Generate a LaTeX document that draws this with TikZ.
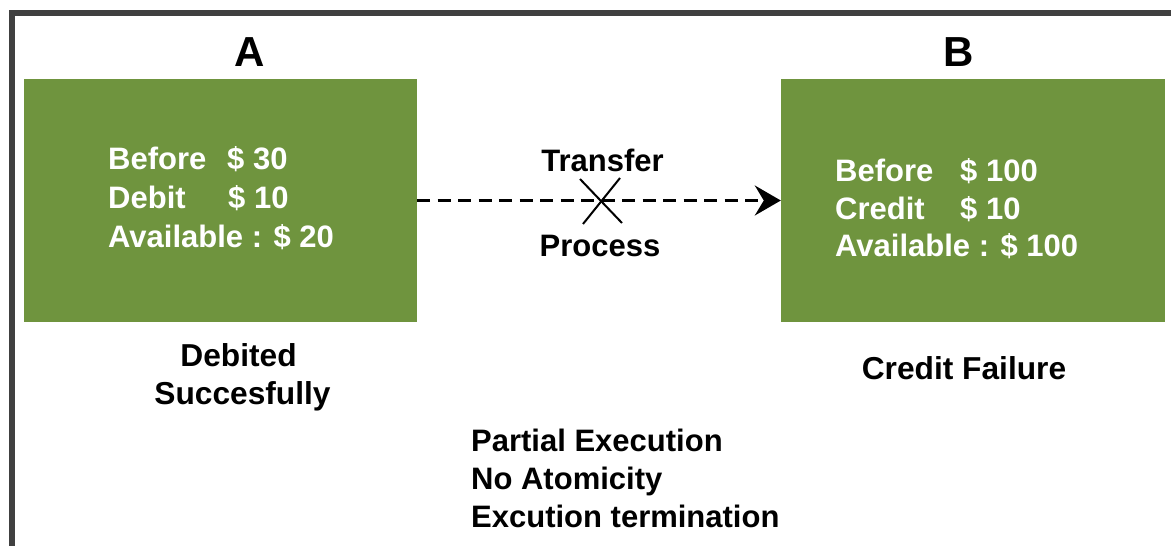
\documentclass[tikz,border=0pt]{standalone}
\usepackage{fontspec}
\setmainfont{Liberation Sans}
\usetikzlibrary{arrows.meta,calc}
\definecolor{boxgreen}{RGB}{111,148,62}
\definecolor{framegray}{RGB}{64,64,64}
\begin{document}
\begin{tikzpicture}[x=1pt,y=-1pt,
  gbox/.style={fill=boxgreen, draw=none, inner sep=0pt},
  txt/.style={inner sep=0pt, font=\bfseries\fontsize{31}{37}\selectfont},
  wt/.style={txt, text=white, anchor=base west},
  bt/.style={txt, text=black},
  big/.style={font=\bfseries\fontsize{31.7}{38}\selectfont},
  head/.style={inner sep=0pt, anchor=base, font=\bfseries\fontsize{42}{48}\selectfont},
  flow/.style={dash pattern=on 13pt off 7.5pt, line width=2.6pt,
    -{Stealth[length=26pt, width=30pt, inset=9pt]}},
  cross/.style={line width=2pt}
]
\useasboundingbox (0,0) rectangle (1171,546);
\fill[white] (0,0) rectangle (1171,546);
\draw[framegray, line width=6pt, line join=miter] (12,546) -- (12,13) -- (1171,13);

% boxes
\node[gbox, minimum width=393pt, minimum height=243pt] (A) at (220.5,200.5) {};
\node[gbox, minimum width=384pt, minimum height=243pt] (B) at (973,200.5) {};

% headings
\node[head] (hA) at (250,66) {A};
\node[head] (hB) at (958.5,66) {B};

% box A text
\node[wt] (a1) at (108,169.5) {Before};
\node[wt] (a1v) at (227,169.5) {\$ 30};
\node[wt] (a2) at (108,208.5) {Debit};
\node[wt] (a2v) at (228,208.5) {\$ 10};
\node[wt] (a3) at (108,247.5) {Available : \$ 20};

% box B text
\node[wt] (b1) at (835,181) {Before};
\node[wt] (b1v) at (960,181) {\$ 100};
\node[wt] (b2) at (835,219) {Credit};
\node[wt] (b2v) at (960,219) {\$ 10};
\node[wt] (b3) at (835,256.5) {Available : \$ 100};

% transfer arrow
\draw[flow] (A.east) -- (B.west);
\coordinate (xc) at (601,201);
\draw[cross] ($(xc)+(-21,-22)$) -- ($(xc)+(21,22)$);
\draw[cross] ($(xc)+(19,-23)$) -- ($(xc)+(-18,23)$);
\node[bt, anchor=base] (tr) at (602.5,171) {Transfer};
\node[bt, anchor=base] (pr) at (600,256) {Process};

% status labels
\node[bt, big, anchor=base] (d1) at (238.5,366) {Debited};
\node[bt, big, anchor=base] (d2) at (242.5,404) {Succesfully};
\node[bt, big, anchor=base] (cf) at (964,379) {Credit Failure};

% notes
\node[bt, anchor=base west] (n1) at (471,451) {Partial Execution};
\node[bt, anchor=base west] (n2) at (471,489) {No Atomicity};
\node[bt, anchor=base west] (n3) at (471,527) {Excution termination};
\end{tikzpicture}
\end{document}
